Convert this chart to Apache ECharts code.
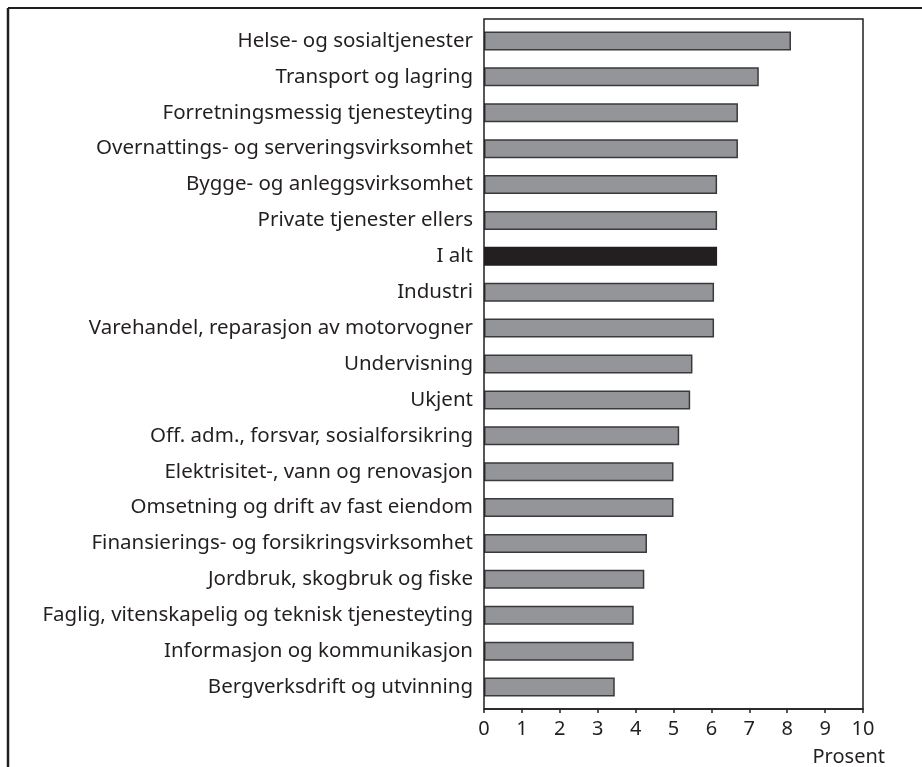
<!DOCTYPE html>
<html>
<head>
<meta charset="utf-8">
<script src="https://cdn.jsdelivr.net/npm/echarts@6/dist/echarts.min.js"></script>
<style>
  html, body { margin: 0; padding: 0; background: #fff; }
  #chart { width: 922px; height: 767px; }
</style>
</head>
<body>
<div id="chart"></div>
<script>
const categories = [
  'Helse- og sosialtjenester',
  'Transport og lagring',
  'Forretningsmessig tjenesteyting',
  'Overnattings- og serveringsvirksomhet',
  'Bygge- og anleggsvirksomhet',
  'Private tjenester ellers',
  'I alt',
  'Industri',
  'Varehandel, reparasjon av motorvogner',
  'Undervisning',
  'Ukjent',
  'Off. adm., forsvar, sosialforsikring',
  'Elektrisitet-, vann og renovasjon',
  'Omsetning og drift av fast eiendom',
  'Finansierings- og forsikringsvirksomhet',
  'Jordbruk, skogbruk og fiske',
  'Faglig, vitenskapelig og teknisk tjenesteyting',
  'Informasjon og kommunikasjon',
  'Bergverksdrift og utvinning'
];
const values = [8.1, 7.25, 6.7, 6.7, 6.15, 6.15, 6.15, 6.07, 6.07, 5.5, 5.44, 5.15, 5.0, 5.0, 4.3, 4.23, 3.95, 3.95, 3.45];
const totalLabel = 'I alt';
const xTicks = { min: 0, max: 10, interval: 1 };

const ink = '#231f20';
const font = 'Noto Sans';

const chart = echarts.init(document.getElementById('chart'));

chart.setOption({
  animation: false,
  grid: { left: 484, right: 59, top: 23, bottom: 62, containLabel: false, outerBoundsMode: 'none' },
  xAxis: {
    type: 'value',
    min: xTicks.min, max: xTicks.max, interval: xTicks.interval,
    offset: 4,
    name: 'Prosent',
    nameLocation: 'end',
    nameGap: 0,
    nameTextStyle: {
      color: ink, fontFamily: font, fontSize: 20,
      align: 'right', verticalAlign: 'top', padding: [38, -22, 0, 0]
    },
    axisLine: { show: true, lineStyle: { color: ink, width: 1.5 } },
    axisTick: { show: true, length: 4, lineStyle: { color: ink, width: 1.5 } },
    axisLabel: { color: ink, fontFamily: font, fontSize: 20, margin: 10 },
    splitLine: { show: false }
  },
  yAxis: {
    type: 'category',
    data: categories,
    inverse: true,
    axisLine: { show: false },
    axisTick: { show: false },
    axisLabel: { color: ink, fontFamily: font, fontSize: 20.5, margin: 11 }
  },
  series: [{
    type: 'bar',
    barWidth: 19,
    data: values.map((v, i) => ({
      value: v,
      itemStyle: categories[i] === totalLabel
        ? { color: ink, borderColor: ink, borderWidth: 1.5 }
        : { color: '#939598', borderColor: '#3a3a3c', borderWidth: 1.5 }
    }))
  }],
  graphic: [
    // outer figure frame
    { type: 'line', shape: { x1: 8, y1: 8, x2: 922, y2: 8 }, style: { stroke: ink, lineWidth: 2 } },
    { type: 'line', shape: { x1: 8, y1: 8, x2: 8, y2: 767 }, style: { stroke: ink, lineWidth: 2.5 } },
    // plot box
    { type: 'rect', shape: { x: 484, y: 19, width: 379, height: 690 }, style: { fill: 'none', stroke: ink, lineWidth: 1.5 }, z: 10 }
  ]
});
</script>
</body>
</html>
